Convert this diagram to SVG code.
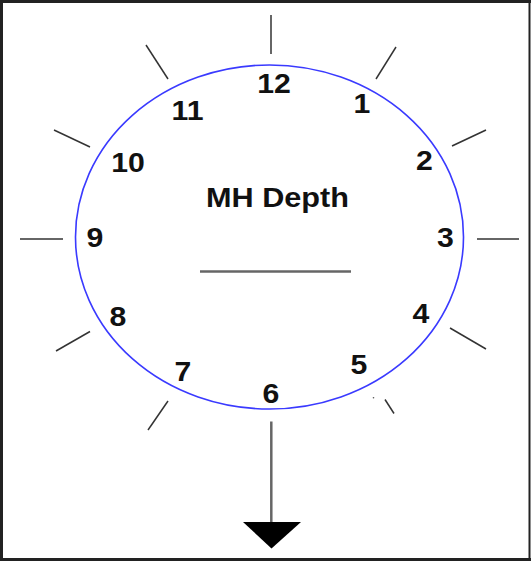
<svg xmlns="http://www.w3.org/2000/svg" width="531" height="561" viewBox="0 0 531 561">
<style>
.num{font-family:"Liberation Sans",Arial,sans-serif;font-weight:bold;font-size:27px;fill:#111;text-anchor:middle}
.tick{stroke:#333;stroke-width:1.5;fill:none}
.conn{stroke:#666;stroke-width:2.5;fill:none}
</style>
<rect x="0" y="0" width="531" height="561" fill="#fff"/>
<g id="frame" stroke="#222" fill="none">
<line x1="0" y1="1.5" x2="531" y2="1.5" stroke-width="3"/>
<line x1="1.5" y1="0" x2="1.5" y2="561" stroke-width="3"/>
<line x1="0" y1="559.5" x2="531" y2="559.5" stroke-width="3"/>
<line x1="529.5" y1="0" x2="529.5" y2="561" stroke-width="2"/>
</g>
<g id="dial">
<ellipse cx="269.5" cy="237" rx="194" ry="172" fill="none" stroke="#3a3aff" stroke-width="1.6"/>
</g>
<g id="ticks">
<line class="tick" x1="271" y1="15" x2="271" y2="54"/>
<line class="tick" x1="396" y1="47" x2="376" y2="79"/>
<line class="tick" x1="486" y1="130" x2="452" y2="146"/>
<line class="tick" x1="477" y1="239" x2="519" y2="239"/>
<line class="tick" x1="450" y1="328" x2="486" y2="349"/>
<line class="tick" x1="385" y1="399.5" x2="394" y2="413.5"/>
<circle cx="373.5" cy="397.7" r="0.8" fill="#555"/>
<line class="tick" x1="168" y1="401" x2="148" y2="430"/>
<line class="tick" x1="90" y1="331.5" x2="56" y2="351"/>
<line class="tick" x1="20" y1="239" x2="63" y2="239"/>
<line class="tick" x1="54" y1="130" x2="90" y2="147"/>
<line class="tick" x1="146" y1="45" x2="168" y2="79"/>
</g>
<g id="labels">
<text class="num" transform="translate(274,92.5) scale(1.12,1)">12</text>
<text class="num" transform="translate(362,113) scale(1.12,1)">1</text>
<text class="num" transform="translate(424.5,170) scale(1.12,1)">2</text>
<text class="num" transform="translate(445.5,246.5) scale(1.12,1)">3</text>
<text class="num" transform="translate(421,323) scale(1.12,1)">4</text>
<text class="num" transform="translate(359,374) scale(1.12,1)">5</text>
<text class="num" transform="translate(271,402.5) scale(1.12,1)">6</text>
<text class="num" transform="translate(183,381) scale(1.12,1)">7</text>
<text class="num" transform="translate(118,326) scale(1.12,1)">8</text>
<text class="num" transform="translate(95,246.5) scale(1.12,1)">9</text>
<text class="num" transform="translate(128,171.5) scale(1.12,1)">10</text>
<text class="num" transform="translate(187.5,120) scale(1.12,1)">11</text>
</g>
<g id="depth">
<text class="num" x="277.5" y="206.5" textLength="143" lengthAdjust="spacingAndGlyphs">MH Depth</text>
<line class="conn" x1="200" y1="271.5" x2="351" y2="271.5"/>
</g>
<g id="connectors">
<line class="conn" x1="271.3" y1="421.5" x2="271.3" y2="524"/>
<polygon points="243,522 301,522 271.5,548.5" fill="#000"/>
</g>
</svg>
